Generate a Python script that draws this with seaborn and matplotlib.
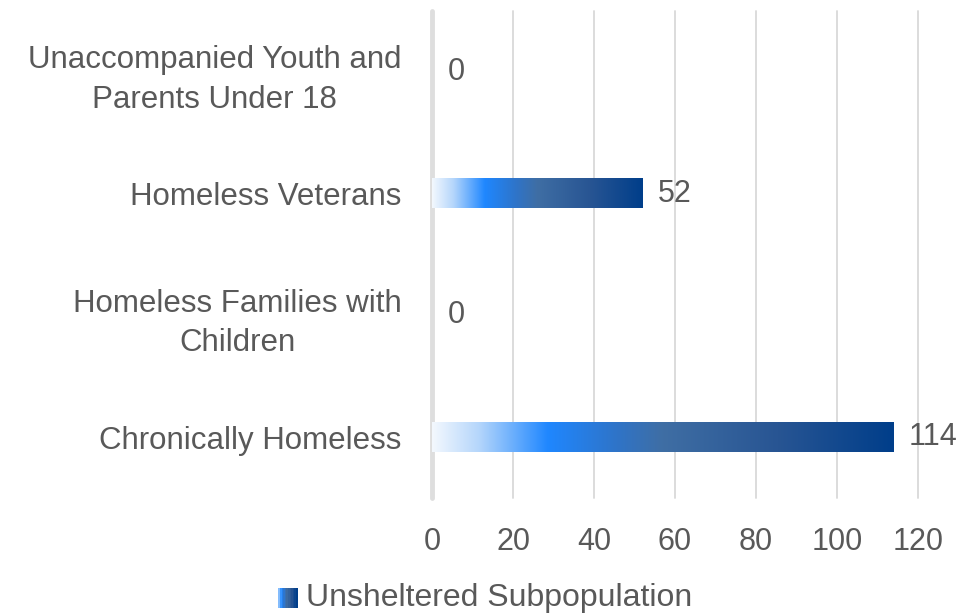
import matplotlib
matplotlib.use("Agg")
import matplotlib.pyplot as plt
import seaborn as sns
import numpy as np
from matplotlib.colors import LinearSegmentedColormap
from matplotlib.patches import Rectangle
from matplotlib.legend_handler import HandlerBase

categories = ["Unaccompanied Youth and\nParents Under 18", "Homeless Veterans",
              "Homeless Families with\nChildren", "Chronically Homeless"]
values = [0, 52, 0, 114]
series_name = "Unsheltered Subpopulation"
xticks = [0, 20, 40, 60, 80, 100, 120]

sns.set_theme(style="white")
plt.rcParams['font.family'] = ['Liberation Sans', 'DejaVu Sans']
TXT = "#595959"
GRID = "#d9d9d9"

cmap = LinearSegmentedColormap.from_list("grad", [
    (0.00, "#f3f8fe"),
    (0.10, "#b5d6fb"),
    (0.25, "#1f87ff"),
    (0.40, "#2f74c8"),
    (0.50, "#3f6ea4"),
    (0.75, "#285593"),
    (1.00, "#003e8a"),
])

fig = plt.figure(figsize=(9.59, 6.15), dpi=100)
ax = fig.add_axes([432/959, 1-498/615, (918-432)/959, (498-11)/615])

sns.barplot(x=values, y=categories, orient="h", width=0.24, ax=ax,
            color="#1f5fa8", saturation=1)

ax.set_xlim(0, 120)
xl, yl = ax.get_xlim(), ax.get_ylim()
grad = np.linspace(0, 1, 256).reshape(1, -1)
for p in list(ax.patches):
    w = p.get_width()
    if w <= 0:
        continue
    x0, y0, h = p.get_x(), p.get_y(), p.get_height()
    ax.imshow(grad, extent=(x0, x0 + w, y0 + h, y0), aspect="auto",
              cmap=cmap, zorder=3, interpolation="bicubic")
    p.set_facecolor("none")
    p.set_edgecolor("none")
ax.set_xlim(xl)
ax.set_ylim(yl)

for i, v in enumerate(values):
    ax.annotate(f"{v}", xy=(v, i), xytext=(11, 0), textcoords="offset points",
                ha="left", va="center", fontsize=22, color=TXT)

ax.set_xticks(xticks)
ax.grid(axis="x", color=GRID, lw=1.3)
ax.grid(axis="y", visible=False)
ax.set_axisbelow(True)
for gl in ax.get_xgridlines():
    gl.set_clip_on(False)
ax.axvline(0, color="#dedede", lw=3.5, zorder=1, clip_on=False)
for s in ax.spines.values():
    s.set_visible(False)
ax.tick_params(axis="x", length=0, colors=TXT, labelsize=22, pad=21)
ax.tick_params(axis="y", length=0, colors=TXT, labelsize=22.5, pad=22)
for t in ax.get_yticklabels():
    t.set_multialignment("center")
    t.set_linespacing(1.4)
ax.set_xlabel("")
ax.set_ylabel("")


class GradHandler(HandlerBase):
    def create_artists(self, legend, orig, xd, yd, width, height, fontsize, trans):
        n = 12
        side = height
        x0 = xd + width - side
        arts = []
        for k in range(n):
            r = Rectangle((x0 + side * k / n, yd), side / n + 0.2, side,
                          facecolor=cmap(0.15 + 0.85 * k / (n - 1)),
                          edgecolor="none", transform=trans)
            arts.append(r)
        return arts


handle = Rectangle((0, 0), 1, 1)
fig.legend([handle], [series_name], handler_map={Rectangle: GradHandler()},
           loc="center", bbox_to_anchor=(486/959, 1-598/615), frameon=False,
           fontsize=23, labelcolor=TXT, handlelength=0.55, handleheight=0.55,
           handletextpad=0.25, borderpad=0)

fig.savefig("out.png", dpi=100)
